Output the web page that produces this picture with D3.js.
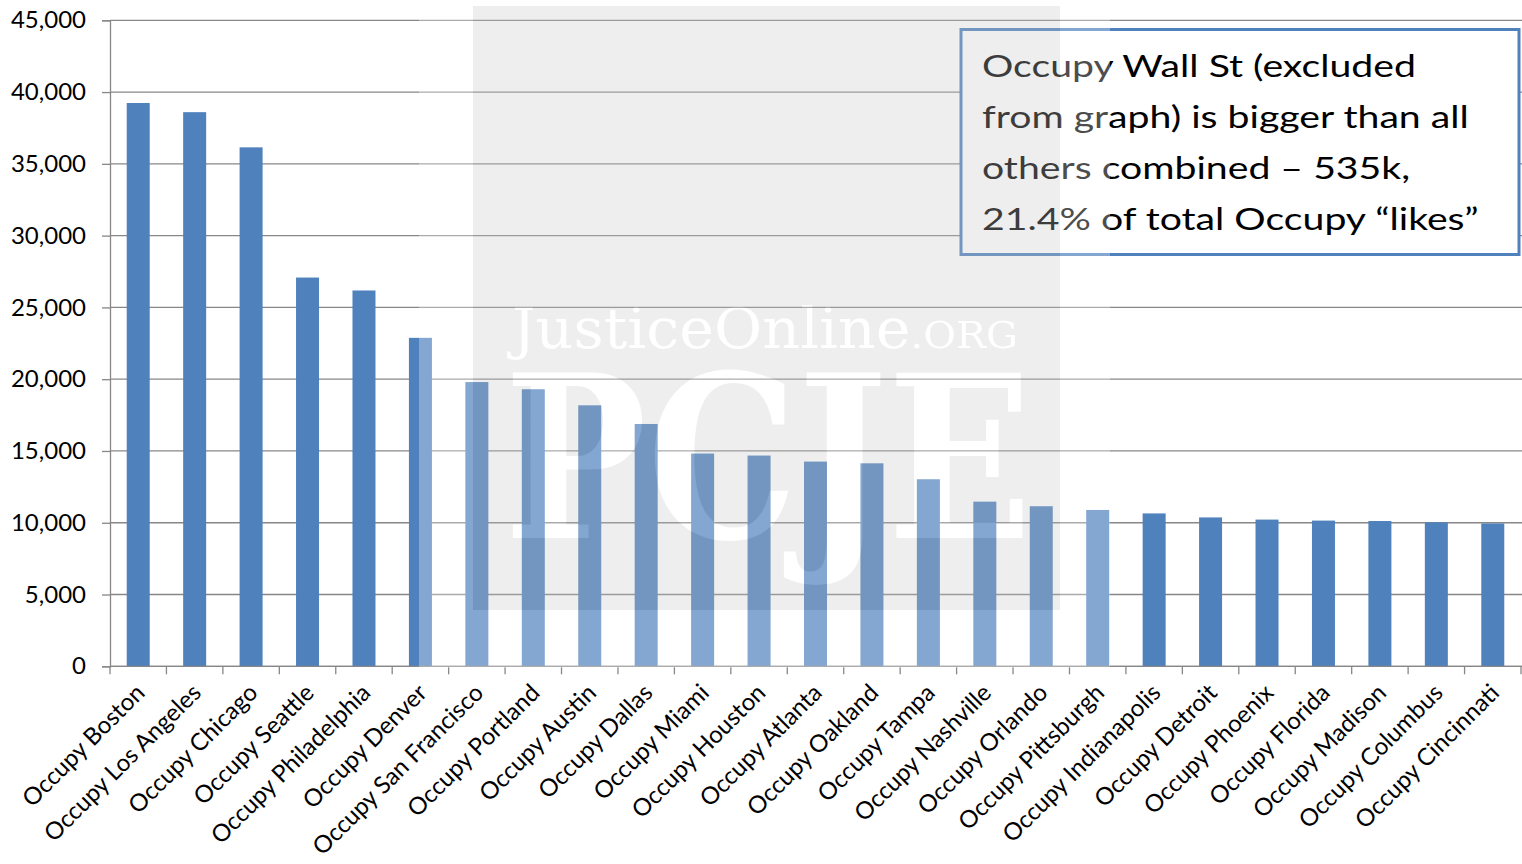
<!DOCTYPE html>
<html>
<head>
<meta charset="utf-8">
<script src="https://cdn.jsdelivr.net/npm/d3@7/dist/d3.min.js"></script>
<style>
  html, body { margin: 0; padding: 0; background: #ffffff; }
  svg { display: block; }
</style>
</head>
<body>
<svg id="chart" width="1522" height="864"></svg>
<script>
const categories = [
  "Occupy Boston", "Occupy Los Angeles", "Occupy Chicago", "Occupy Seattle",
  "Occupy Philadelphia", "Occupy Denver", "Occupy San Francisco", "Occupy Portland",
  "Occupy Austin", "Occupy Dallas", "Occupy Miami", "Occupy Houston",
  "Occupy Atlanta", "Occupy Oakland", "Occupy Tampa", "Occupy Nashville",
  "Occupy Orlando", "Occupy Pittsburgh", "Occupy Indianapolis", "Occupy Detroit",
  "Occupy Phoenix", "Occupy Florida", "Occupy Madison", "Occupy Columbus",
  "Occupy Cincinnati"
];
const likes = [
  39240, 38600, 36150, 27080, 26180, 22880, 19800, 19300,
  18180, 16880, 14820, 14680, 14260, 14140, 13030, 11470,
  11150, 10890, 10650, 10370, 10220, 10150, 10120, 10030,
  9950
];
const yTicks = [0, 5000, 10000, 15000, 20000, 25000, 30000, 35000, 40000, 45000];
const noteLines = [
  "Occupy Wall St (excluded",
  "from graph) is bigger than all",
  "others combined \u2013 535k,",
  "21.4% of total Occupy \u201clikes\u201d"
];
const watermarkTop = "JusticeOnline";
const watermarkSuffix = ".ORG";
const watermarkBig = "PCJE";

const svg = d3.select("#chart");
const pLeft = 110, pRight = 1521, pTop = 20.3, pBottom = 666.3;
const FONT = "Lato, 'Open Sans', sans-serif";
const BAR = "#4f81bd";
const GRID = "#878787";

const x = d3.scaleBand().domain(categories).range([pLeft, pRight])
  .paddingInner(0.5925).paddingOuter(0.5925 / 2);
const y = d3.scaleLinear().domain([0, 45000]).range([pBottom, pTop]);

// gridlines
svg.append("g").selectAll("line").data(yTicks).join("line")
  .attr("x1", pLeft).attr("x2", pRight + 1)
  .attr("y1", d => y(d)).attr("y2", d => y(d))
  .attr("stroke", GRID).attr("stroke-width", 1.3);

// bars
svg.append("g").selectAll("rect").data(categories).join("rect")
  .attr("x", d => x(d))
  .attr("width", x.bandwidth())
  .attr("y", (d, i) => y(likes[i]))
  .attr("height", (d, i) => y(0) - y(likes[i]))
  .attr("fill", BAR);

// y axis
const yAxis = svg.append("g").attr("transform", `translate(${pLeft},0)`)
  .call(d3.axisLeft(y).tickValues(yTicks).tickFormat(d3.format(",")).tickSize(8).tickPadding(16));
yAxis.select(".domain").attr("stroke", GRID).attr("stroke-width", 1.3);
yAxis.selectAll(".tick line").attr("stroke", GRID).attr("stroke-width", 1.3);
yAxis.selectAll(".tick text").attr("font-family", FONT).attr("font-size", 24).attr("fill", "#000");

// x axis: line + boundary ticks
const step = x.step();
const boundaries = categories.map(c => x(c) - x.paddingInner() * step / 2).concat([pRight]);
svg.append("line").attr("x1", pLeft).attr("x2", pRight + 1).attr("y1", pBottom).attr("y2", pBottom)
  .attr("stroke", GRID).attr("stroke-width", 1.3);
svg.append("g").selectAll("line").data(boundaries).join("line")
  .attr("x1", d => d).attr("x2", d => d).attr("y1", pBottom).attr("y2", pBottom + 8)
  .attr("stroke", GRID).attr("stroke-width", 1.3);

// x labels
svg.append("g").selectAll("text").data(categories).join("text")
  .attr("transform", d => `translate(${x(d) + x.bandwidth() / 2 + 2},${pBottom + 22}) rotate(-45)`)
  .attr("text-anchor", "end")
  .attr("dy", "0.35em")
  .attr("font-family", FONT).attr("font-size", 24).attr("fill", "#000")
  .text(d => d);

// annotation box
svg.append("rect").attr("x", 961).attr("y", 29.5).attr("width", 558).attr("height", 225)
  .attr("fill", "#fff").attr("stroke", BAR).attr("stroke-width", 3);
svg.append("g").attr("transform", "translate(982,0) scale(1.265,1)")
  .selectAll("text").data(noteLines).join("text")
  .attr("x", 0).attr("y", (d, i) => 77 + i * 51)
  .attr("font-family", FONT).attr("font-size", 31).attr("fill", "#000")
  .text(d => d);

// watermark overlay
const defs = svg.append("defs");
const band = {x: 419, y: 0, w: 691, h: 668};
const box = {x: 473, y: 6, w: 587, h: 604};
function letters(sel, fill) {
  const t1 = sel.append("text").attr("x", 512).attr("y", 348)
    .attr("font-family", "'DejaVu Serif', serif").attr("font-size", 56)
    .attr("textLength", 506).attr("lengthAdjust", "spacingAndGlyphs").attr("fill", fill);
  t1.append("tspan").text(watermarkTop);
  t1.append("tspan").attr("font-size", 38).text(watermarkSuffix);
  sel.append("text").attr("x", 504).attr("y", 538)
    .attr("font-family", "'DejaVu Serif', serif").attr("font-weight", "bold").attr("font-size", 226)
    .attr("textLength", 528).attr("lengthAdjust", "spacingAndGlyphs").attr("fill", fill)
    .text(watermarkBig);
}
const mW = defs.append("mask").attr("id", "mW").attr("maskUnits", "userSpaceOnUse")
  .attr("x", 0).attr("y", 0).attr("width", 1522).attr("height", 864);
mW.append("rect").attr("x", band.x).attr("y", band.y).attr("width", band.w).attr("height", band.h).attr("fill", "#fff");
mW.append("rect").attr("x", box.x).attr("y", box.y).attr("width", box.w).attr("height", box.h).attr("fill", "#000");
letters(mW, "#fff");
const mG = defs.append("mask").attr("id", "mG").attr("maskUnits", "userSpaceOnUse")
  .attr("x", 0).attr("y", 0).attr("width", 1522).attr("height", 864);
mG.append("rect").attr("x", box.x).attr("y", box.y).attr("width", box.w).attr("height", box.h).attr("fill", "#fff");
letters(mG, "#000");

svg.append("rect").attr("x", band.x).attr("y", band.y).attr("width", band.w).attr("height", band.h)
  .attr("fill", "#fff").attr("fill-opacity", 0.3).attr("mask", "url(#mW)");
svg.append("rect").attr("x", box.x).attr("y", box.y).attr("width", box.w).attr("height", box.h)
  .attr("fill", "#c6c6c6").attr("fill-opacity", 0.3).attr("mask", "url(#mG)");
</script>
</body>
</html>
